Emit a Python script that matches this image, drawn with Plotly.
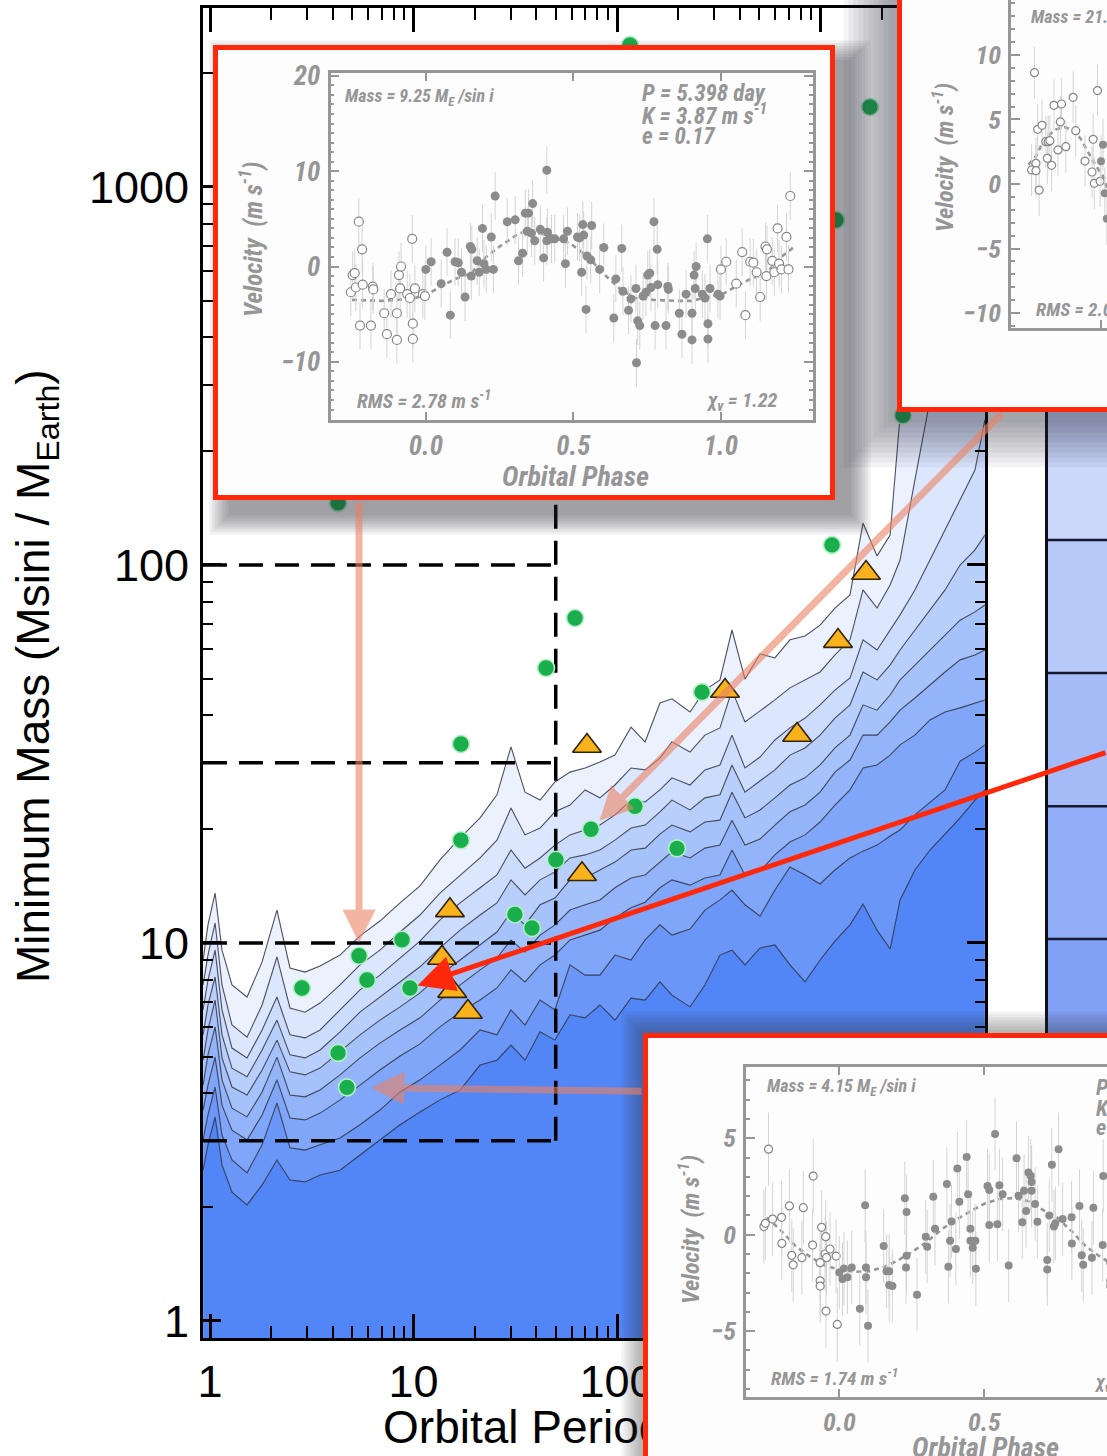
import math
import plotly.graph_objects as go

W, H = 1107, 1456


def fx(p):
    return p / W


def fy(p):
    return 1 - p / H


# ---------------- main panel data ----------------
# detection-limit contours (log10 of period [days], log10 of minimum mass [M_Earth])
contour_log10_period = [-0.034, -0.010, 0.025, 0.059, 0.108, 0.182, 0.256, 0.329, 0.393, 0.467,
                        0.541, 0.639, 0.737, 0.835, 0.934, 1.032, 1.130, 1.229, 1.327, 1.410,
                        1.479, 1.548, 1.622, 1.695, 1.769, 1.843, 1.916, 1.990, 2.069, 2.138,
                        2.211, 2.270, 2.359, 2.432, 2.506, 2.565, 2.629, 2.703, 2.776, 2.850,
                        2.924, 2.998, 3.071, 3.145, 3.209, 3.278, 3.342, 3.391, 3.464, 3.538,
                        3.612, 3.686, 3.759, 3.808]
contour_1 = [0.955, 1.048, 1.132, 0.981, 0.889, 0.857, 0.950, 1.087, 0.934, 0.923,
             0.939, 0.968, 1.019, 1.058, 1.106, 1.151, 1.220, 1.278, 1.331, 1.392,
             1.519, 1.399, 1.378, 1.426, 1.452, 1.463, 1.479, 1.497, 1.571, 1.532,
             1.635, 1.646, 1.611, 1.669, 1.696, 1.828, 1.698, 1.765, 1.754, 1.802,
             1.812, 1.841, 1.886, 1.921, 2.111, 2.024, 2.079, 2.394, 3.098, 3.495,
             3.627, 3.627, 3.627, 3.627]
contour_2 = [0.889, 0.968, 1.053, 0.889, 0.783, 0.751, 0.836, 0.963, 0.828, 0.817,
             0.841, 0.889, 0.942, 0.981, 1.029, 1.074, 1.132, 1.180, 1.225, 1.272,
             1.357, 1.286, 1.304, 1.347, 1.365, 1.405, 1.384, 1.418, 1.463, 1.458,
             1.489, 1.532, 1.505, 1.550, 1.569, 1.669, 1.585, 1.614, 1.643, 1.675,
             1.696, 1.717, 1.762, 1.802, 1.934, 1.886, 1.947, 2.013, 2.225, 2.437,
             2.833, 3.362, 3.627, 3.627]
contour_3 = [0.823, 0.902, 0.981, 0.823, 0.722, 0.696, 0.770, 0.857, 0.757, 0.749,
             0.770, 0.823, 0.876, 0.915, 0.960, 1.005, 1.061, 1.106, 1.146, 1.180,
             1.246, 1.198, 1.225, 1.259, 1.286, 1.299, 1.312, 1.339, 1.378, 1.373,
             1.405, 1.437, 1.418, 1.458, 1.471, 1.550, 1.463, 1.492, 1.537, 1.569,
             1.595, 1.630, 1.669, 1.701, 1.802, 1.775, 1.828, 1.868, 1.934, 2.013,
             2.093, 2.172, 2.251, 2.384]
contour_4 = [0.757, 0.836, 0.910, 0.757, 0.669, 0.646, 0.717, 0.796, 0.704, 0.696,
             0.717, 0.765, 0.817, 0.857, 0.897, 0.937, 0.987, 1.034, 1.074, 1.106,
             1.167, 1.127, 1.167, 1.188, 1.225, 1.233, 1.246, 1.272, 1.304, 1.312,
             1.347, 1.378, 1.352, 1.384, 1.392, 1.471, 1.399, 1.429, 1.458, 1.497,
             1.516, 1.550, 1.595, 1.630, 1.717, 1.696, 1.735, 1.775, 1.828, 1.881,
             1.934, 2.000, 2.040, 2.079]
contour_5 = [0.690, 0.770, 0.849, 0.696, 0.619, 0.598, 0.664, 0.743, 0.659, 0.651,
             0.669, 0.712, 0.757, 0.796, 0.831, 0.868, 0.915, 0.955, 0.995, 1.029,
             1.082, 1.048, 1.101, 1.119, 1.167, 1.172, 1.193, 1.214, 1.246, 1.251,
             1.288, 1.312, 1.294, 1.320, 1.325, 1.399, 1.331, 1.352, 1.384, 1.418,
             1.437, 1.471, 1.516, 1.550, 1.630, 1.616, 1.656, 1.696, 1.735, 1.775,
             1.815, 1.854, 1.876, 1.894]
contour_6 = [0.624, 0.704, 0.778, 0.638, 0.563, 0.540, 0.606, 0.698, 0.598, 0.593,
             0.611, 0.651, 0.696, 0.735, 0.770, 0.802, 0.849, 0.889, 0.929, 0.960,
             1.008, 0.976, 1.021, 1.048, 1.087, 1.101, 1.114, 1.146, 1.172, 1.180,
             1.214, 1.241, 1.225, 1.251, 1.259, 1.325, 1.259, 1.275, 1.312, 1.347,
             1.365, 1.399, 1.452, 1.484, 1.550, 1.550, 1.585, 1.616, 1.648, 1.683,
             1.717, 1.749, 1.762, 1.775]
contour_7 = [0.558, 0.624, 0.698, 0.571, 0.505, 0.479, 0.545, 0.638, 0.537, 0.532,
             0.550, 0.585, 0.624, 0.664, 0.701, 0.733, 0.778, 0.817, 0.849, 0.881,
             0.929, 0.897, 0.942, 0.968, 1.008, 1.021, 1.034, 1.066, 1.093, 1.108,
             1.146, 1.167, 1.153, 1.172, 1.180, 1.246, 1.180, 1.190, 1.233, 1.267,
             1.286, 1.320, 1.365, 1.405, 1.463, 1.471, 1.497, 1.524, 1.550, 1.590,
             1.611, 1.622, 1.635, 1.643]
contour_8 = [0.479, 0.545, 0.619, 0.492, 0.426, 0.392, 0.466, 0.577, 0.458, 0.452,
             0.466, 0.484, 0.519, 0.558, 0.606, 0.638, 0.677, 0.717, 0.770, 0.757,
             0.823, 0.783, 0.849, 0.823, 0.942, 0.915, 0.915, 0.968, 0.955, 1.008,
             1.048, 1.021, 1.037, 1.087, 1.114, 1.140, 1.101, 1.071, 1.140, 1.201,
             1.180, 1.156, 1.193, 1.225, 1.243, 1.259, 1.283, 1.299, 1.339, 1.373,
             1.405, 1.481, 1.505, 1.524]
contour_9 = [0.399, 0.466, 0.540, 0.413, 0.341, 0.307, 0.360, 0.426, 0.373, 0.368,
             0.386, 0.399, 0.439, 0.479, 0.519, 0.553, 0.585, 0.611, 0.677, 0.690,
             0.730, 0.690, 0.765, 0.743, 0.810, 0.802, 0.836, 0.796, 0.854, 0.849,
             0.897, 0.862, 0.831, 0.889, 0.968, 0.981, 0.942, 0.987, 0.995, 0.942,
             0.897, 0.955, 1.005, 1.048, 1.103, 1.034, 0.984, 1.114, 1.193, 1.246,
             1.288, 1.331, 1.378, 1.405]

# planets (green circles) and candidates (orange triangles)
green_period = [115.8, 1751, 4.26, 1139, 2543, 62.2, 44.8, 17.1, 261.6, 17.1, 122.5, 74.5,
                197.2, 50.1, 31.5, 38.2, 8.78, 5.398, 5.91, 2.83, 9.61, 4.26, 4.71, 1191]
green_mass = [2375, 1628, 146, 113, 249, 72.4, 53.4, 33.6, 46.1, 18.7, 23.0, 20.0,
              17.8, 16.6, 11.9, 10.96, 10.2, 9.25, 7.98, 7.60, 7.60, 5.12, 4.15, 818]
tri_period = [1674, 1219, 339.6, 767, 71.2, 67.3, 15.1, 13.8, 15.5, 18.5]
tri_mass = [95.2, 62.9, 46.4, 35.5, 33.2, 15.2, 12.2, 9.13, 7.46, 6.57]

box_mass_levels = [3, 10, 30, 100]
box_period_limit = 50
period_ticks = [1, 10, 100, 1000]
mass_ticks = [1, 10, 100, 1000]

# right-hand panel bin edges (M_Earth)
panel_mass_edges = [4.55, 10.25, 23.0, 51.8, 116.5, 262.0]
panel_colors = ['rgb(130,160,246)', 'rgb(146,173,247)', 'rgb(164,187,248)',
                'rgb(183,201,249)', 'rgb(203,215,251)']

# ---------------- inset RV data ----------------
# 9.25 M_E planet, P = 5.398 d
rv_a_phase = [0.000, 0.018, 0.052, 0.072, 0.083, 0.099, 0.110, 0.121, 0.133, 0.151, 0.154, 0.156,
              0.174, 0.181, 0.192, 0.197, 0.205, 0.222, 0.229, 0.235, 0.276, 0.303, 0.314, 0.328,
              0.337, 0.344, 0.348, 0.358, 0.362, 0.369, 0.388, 0.399, 0.410, 0.410, 0.412, 0.426,
              0.437, 0.467, 0.473, 0.480, 0.514, 0.521, 0.528, 0.532, 0.535, 0.543, 0.546, 0.559,
              0.562, 0.589, 0.603, 0.637, 0.644, 0.664, 0.668, 0.687, 0.695, 0.712, 0.714, 0.718,
              0.725, 0.736, 0.746, 0.752, 0.759, 0.763, 0.773, 0.777, 0.784, 0.786, 0.814, 0.820,
              0.822, 0.859, 0.868, 0.882, 0.902, 0.902, 0.909, 0.913, 0.916, 0.937, 0.946, 0.954,
              0.956, 0.956, 0.963, 0.990, 0.997]
rv_a_vel = [-0.3, 0.5, -1.8, 1.5, -5.1, 0.5, 0.4, -0.6, -3.2, 2.1, -1.0, 1.8,
            0.6, -0.6, 4.0, 0.3, -0.3, 3.1, -0.3, 7.4, 4.7, 4.9, 0.6, 1.4,
            5.6, 3.7, 5.6, 3.5, 6.6, 2.7, 3.9, 0.9, 10.1, 2.7, 3.6, 2.9,
            2.9, 2.9, 0.3, 3.7, 3.1, 3.0, -0.6, 4.4, 3.3, -4.5, 1.1, 0.7,
            4.3, -0.3, 2.0, -5.4, -1.3, 1.9, -2.6, -4.6, -3.4, -2.3, -10.1, -5.7,
            -6.2, -3.1, -2.7, -0.9, -0.7, -2.2, 4.7, -6.2, 1.8, -1.9, -6.2, -2.1,
            -2.4, -4.9, -7.1, -2.9, -4.9, -7.7, -0.9, -2.3, 0.0, -2.9, -3.3, 2.9,
            -6.0, -7.6, -2.3, -2.9, -3.1]
rv_a_err = 2.5
rv_a_model_phase = [-0.25, -0.15, -0.05, 0.0, 0.05, 0.10, 0.154, 0.20, 0.25, 0.317, 0.36, 0.43,
                    0.49, 0.55, 0.60, 0.66, 0.71, 0.77, 0.85, 0.90, 0.97, 1.0, 1.05, 1.10,
                    1.154, 1.20, 1.25]
rv_a_model_vel = [-3.5, -3.6, -3.4, -3.0, -2.1, -1.3, -0.7, 0.9, 2.1, 3.5, 3.7, 3.1,
                  2.4, 1.0, -0.7, -2.4, -3.3, -3.5, -3.6, -3.6, -3.1, -3.0, -2.1, -1.3,
                  -0.7, 0.9, 2.1]
rv_a_vel_ticks = [-10, 0, 10, 20]
phase_ticks = [0.0, 0.5, 1.0]

# 4.15 M_E planet
rv_b_phase = [0.000, 0.011, 0.016, 0.028, 0.043, 0.071, 0.089, 0.092, 0.092, 0.099, 0.153, 0.163,
              0.172, 0.172, 0.183, 0.226, 0.230, 0.232, 0.232, 0.268, 0.298, 0.303, 0.324, 0.330,
              0.371, 0.376, 0.382, 0.387, 0.402, 0.407, 0.414, 0.439, 0.444, 0.452, 0.452, 0.460,
              0.469, 0.471, 0.511, 0.517, 0.517, 0.537, 0.545, 0.552, 0.563, 0.584, 0.611, 0.618,
              0.631, 0.637, 0.644, 0.652, 0.660, 0.663, 0.663, 0.675, 0.683, 0.717, 0.717, 0.724,
              0.733, 0.740, 0.745, 0.756, 0.770, 0.801, 0.802, 0.828, 0.836, 0.841, 0.871, 0.876,
              0.908, 0.910, 0.934, 0.934, 0.934, 0.939, 0.951, 0.953, 0.954, 0.956, 0.968, 0.989,
              0.993]
rv_b_vel = [-1.96, -2.30, -1.75, -2.21, -1.70, -3.84, 1.52, -1.70, -2.21, -4.72, -0.59, -1.89,
            -1.89, -2.60, -2.66, 1.89, -1.70, 1.18, -1.09, -3.11, -0.10, -0.62, 1.97, 0.31,
            2.63, -1.66, -0.31, 0.69, -0.74, 3.43, 1.71, 4.03, 2.09, 0.31, -0.31, -0.67,
            -0.31, -1.76, 2.53, 2.32, 0.50, 5.22, 0.54, 2.56, 2.09, -1.59, 3.96, 2.02,
            0.64, 2.28, 1.23, 3.22, 3.06, 2.73, 2.28, 1.59, 0.67, -1.31, -1.80, 1.00,
            3.63, 0.42, 0.59, 4.43, 0.81, 0.90, -0.45, 1.49, -1.07, -1.56, -1.19, 1.40,
            -0.54, 3.04, -1.45, -2.39, -2.66, 0.38, -1.00, -0.10, -3.96, -1.19, -0.74, -1.11,
            -4.65]
rv_b_err = 1.9
rv_b_model_phase = [-0.25, -0.20, -0.15, -0.10, -0.05, 0.00, 0.05, 0.10, 0.15, 0.20, 0.25, 0.30,
                    0.35, 0.40, 0.45, 0.50, 0.55, 0.60, 0.65, 0.70, 0.75, 0.80, 0.85, 0.90, 0.95]
rv_b_model_vel = [0.9, 0.2, -0.6, -1.15, -1.6, -1.8, -1.92, -1.9, -1.7, -1.35, -0.9, -0.4,
                  0.25, 0.75, 1.2, 1.6, 1.85, 1.9, 1.75, 1.3, 0.9, 0.2, -0.6, -1.15, -1.6]
rv_b_vel_ticks = [-5, 0, 5]

# 21 M_E planet (top-right, mostly off the page)
rv_c_phase = [0.000, 0.007, 0.013, 0.020, 0.761, 0.771, 0.776, 0.776, 0.782, 0.787, 0.797, 0.810,
              0.815, 0.818, 0.824, 0.830, 0.838, 0.852, 0.860, 0.864, 0.879, 0.904, 0.913, 0.945,
              0.969, 0.973, 0.977, 0.988, 0.997]
rv_c_vel = [1.76, 3.05, -0.72, -2.69, 1.09, 8.63, 1.60, 1.03, 4.24, -0.47, 4.55, 3.28,
            1.99, 3.28, 3.36, 1.45, 6.10, 2.64, 4.81, 6.20, 2.89, 6.72, 4.13, 1.78,
            0.93, 3.46, 0.05, 7.24, 0.21]
rv_c_err = 2.0
rv_c_model_phase = [-0.25, -0.222, -0.20, -0.16, -0.125, -0.09, -0.07, -0.04, -0.02, 0.01, 0.02]
rv_c_model_vel = [1.5, 2.2, 3.3, 4.2, 4.4, 4.1, 3.5, 2.3, 1.5, 0.5, -0.3]
rv_c_vel_ticks = [-10, -5, 0, 5, 10]

# ---------------- styles ----------------
MAIN_FONT = "Liberation Sans, Arial, Helvetica, sans-serif"
INSET_FAMILY = "Liberation Sans Narrow, Arial Narrow, Roboto Condensed, Liberation Sans, Arial"
GRAY = 'rgb(150,150,150)'
RED = 'rgb(255,40,10)'
SALMON = 'rgba(236,130,100,0.6)'


def ifont(size):
    return dict(family=INSET_FAMILY, size=size, color=GRAY, weight='bold', style='italic')


MAIN_XR = [-0.0344, 3.8084]
MAIN_YR = [-0.045, 3.4735]

fig = go.Figure()
NOHOVER = dict(showlegend=False, hoverinfo='skip')

# ---- completeness contours with graded fills ----
periods = [10 ** v for v in contour_log10_period]
contours = [contour_9, contour_8, contour_7, contour_6, contour_5,
            contour_4, contour_3, contour_2, contour_1]
fills = ['rgb(82,133,246)', 'rgb(106,151,247)', 'rgb(127,166,248)', 'rgb(147,180,249)',
         'rgb(166,194,250)', 'rgb(185,207,251)', 'rgb(203,220,252)', 'rgb(220,231,253)',
         'rgb(236,241,254)']
fig.add_trace(go.Scatter(x=periods, y=[0.5] * len(periods), mode='lines',
                         line=dict(width=0, color='rgba(0,0,0,0)'), **NOHOVER))
for c, col in zip(contours, fills):
    fig.add_trace(go.Scatter(x=periods, y=[10 ** v for v in c], mode='lines', fill='tonexty',
                             fillcolor=col, line=dict(color='rgba(35,38,55,0.8)', width=1.1),
                             **NOHOVER))

# ---- dashed survey box ----
p_left = 10 ** MAIN_XR[0]
for m in box_mass_levels:
    fig.add_trace(go.Scatter(x=[p_left, box_period_limit], y=[m, m], mode='lines',
                             line=dict(color='black', width=3.5, dash='24px,12px'), **NOHOVER))
fig.add_trace(go.Scatter(x=[box_period_limit, box_period_limit], y=[box_mass_levels[0], 1000],
                         mode='lines', line=dict(color='black', width=3.5, dash='24px,12px'),
                         **NOHOVER))

# ---- planets ----
fig.add_trace(go.Scatter(x=green_period, y=green_mass, mode='markers',
                         marker=dict(size=17, color='rgb(26,174,76)',
                                     line=dict(color='rgb(175,240,195)', width=1.6)), **NOHOVER))
fig.add_trace(go.Scatter(x=tri_period, y=tri_mass, mode='markers',
                         marker=dict(symbol='triangle-up', size=25, color='rgb(247,178,28)',
                                     line=dict(color='rgb(50,35,10)', width=1.6)), **NOHOVER))

# empty trace that creates the overlay axis used for the x-axis title
fig.add_trace(go.Scatter(x=[None], y=[None], xaxis='x9', yaxis='y', mode='markers', **NOHOVER))

# ---- right-hand panel ----
for lo, hi, col in zip(panel_mass_edges[:-1], panel_mass_edges[1:], panel_colors):
    fig.add_trace(go.Scatter(x=[0, 1, 1, 0, 0], y=[lo, lo, hi, hi, lo], xaxis='x2', yaxis='y2',
                             mode='lines', fill='toself', fillcolor=col, line=dict(width=0),
                             **NOHOVER))
for e in panel_mass_edges:
    fig.add_trace(go.Scatter(x=[0, 1], y=[e, e], xaxis='x2', yaxis='y2', mode='lines',
                             line=dict(color='rgb(20,25,45)', width=2.5), **NOHOVER))

# ---- inset frames (empty subplots carrying shadow / white card / red border) ----
for xa, ya in (('x3', 'y3'), ('x5', 'y5'), ('x7', 'y7')):
    fig.add_trace(go.Scatter(x=[None], y=[None], xaxis=xa, yaxis=ya, mode='markers', **NOHOVER))


def add_rv(xa, ya, phase, vel, err, mph, mvel, lo, hi, msize):
    cp, cv = [], []
    for p, v in zip(phase, vel):
        if p - 1 >= lo:
            cp.append(p - 1)
            cv.append(v)
        if p + 1 <= hi:
            cp.append(p + 1)
            cv.append(v)
    es = dict(type='constant', value=err, color='rgb(212,212,212)', thickness=1, width=0)
    fig.add_trace(go.Scatter(x=mph, y=mvel, xaxis=xa, yaxis=ya, mode='lines',
                             line=dict(color=GRAY, width=2.6, dash='5px,4px'), **NOHOVER))
    fig.add_trace(go.Scatter(x=cp, y=cv, xaxis=xa, yaxis=ya, mode='markers', error_y=es,
                             marker=dict(size=msize, color='white',
                                         line=dict(color='rgb(135,135,135)', width=1.2)),
                             **NOHOVER))
    fig.add_trace(go.Scatter(x=phase, y=vel, xaxis=xa, yaxis=ya, mode='markers', error_y=es,
                             marker=dict(size=msize, color='rgb(140,140,140)'), **NOHOVER))


add_rv('x4', 'y4', rv_c_phase, rv_c_vel, rv_c_err, rv_c_model_phase, rv_c_model_vel, -0.26, 1.26, 8)
add_rv('x6', 'y6', rv_a_phase, rv_a_vel, rv_a_err, rv_a_model_phase, rv_a_model_vel, -0.26, 1.26, 9)
add_rv('x8', 'y8', rv_b_phase, rv_b_vel, rv_b_err, rv_b_model_phase, rv_b_model_vel, -0.26, 1.26, 8)


# ---------------- layout ----------------
def frame_shapes(xr, yr, x0, y0, x1, y1, spread=26, steps=8, dx=0, dy=0, alpha=0.06):
    sh = []
    for k in range(steps, 0, -1):
        e = spread * k / steps
        sh.append(dict(type='rect', xref=xr, yref=yr, layer='below',
                       x0=x0 - e + dx, x1=x1 + e + dx, y0=y0 - e + dy, y1=y1 + e + dy,
                       line=dict(width=0), fillcolor='rgba(45,45,55,%.3f)' % alpha))
    sh.append(dict(type='rect', xref=xr, yref=yr, layer='below', x0=x0, x1=x1, y0=y0, y1=y1,
                   line=dict(color=RED, width=5), fillcolor='rgb(253,253,253)'))
    return sh


shapes = []
shapes += frame_shapes('x3', 'y3', 899.5, -30, 1140, 409.5, spread=50, steps=10, dx=-6, dy=8,
                       alpha=0.05)
shapes += frame_shapes('x5', 'y5', 215.5, 47.5, 832.5, 497.5, spread=22, steps=8, dx=16, dy=15,
                       alpha=0.07)
shapes += frame_shapes('x7', 'y7', 645.5, 1035.5, 1140, 1490, spread=24, steps=8, alpha=0.06)

minor_vals = [d * 10 ** k for k in range(0, 4) for d in range(2, 10)]
main_ax = dict(showline=True, linecolor='black', linewidth=3, mirror='ticks', ticks='inside',
               tickwidth=2.5, tickcolor='black', tickmode='array', showgrid=False, zeroline=False,
               tickfont=dict(family=MAIN_FONT, size=45, color='black'), type='log')


def rv_axes(xdom, ydom, xr, yr, yticks, xmirror, ymirror, ticksize):
    common = dict(showline=True, linecolor=GRAY, linewidth=2.5, ticks='inside', tickcolor=GRAY,
                  tickwidth=2, showgrid=False, zeroline=False, tickfont=ifont(ticksize))
    xa = dict(domain=xdom, range=xr, tickmode='array', tickvals=phase_ticks,
              ticktext=['%.1f' % t for t in phase_ticks], ticklen=8,
              mirror='ticks' if xmirror else False, ticklabelstandoff=0, **common)
    ya = dict(domain=ydom, range=yr, tickmode='array', tickvals=yticks,
              ticktext=[str(t).replace('-', '\u2212') for t in yticks], ticklen=9,
              mirror='ticks' if ymirror else False, ticklabelstandoff=2,
              minor=dict(ticks='inside', ticklen=4, dtick=1, tickcolor=GRAY, tickwidth=1.5),
              **common)
    return xa, ya


xa4, ya4 = rv_axes([fx(1011), 1.0], [fy(328), 1.0], [-0.31, 0.0207], [-11.16, 14.26],
                   rv_c_vel_ticks, False, False, 26)
xa6, ya6 = rv_axes([fx(330.5), fx(812.7)], [fy(420), fy(73)], [-0.323, 1.311], [-16.1, 20.3],
                   rv_a_vel_ticks, True, True, 27)
xa8, ya8 = rv_axes([fx(746), 1.0], [fy(1397), fy(1067)], [-0.3217, 0.923], [-8.41, 8.69],
                   rv_b_vel_ticks, True, False, 26)
xa4['anchor'], ya4['anchor'] = 'y4', 'x4'
xa6['anchor'], ya6['anchor'] = 'y6', 'x6'
xa8['anchor'], ya8['anchor'] = 'y8', 'x8'

hidden = dict(visible=False, showgrid=False, zeroline=False, fixedrange=True)
x_title_pos = 10 ** ((MAIN_XR[0] + MAIN_XR[1]) / 2)

layout = dict(
    width=W, height=H, margin=dict(l=0, r=0, t=0, b=0, autoexpand=False), showlegend=False,
    paper_bgcolor='white', plot_bgcolor='rgba(0,0,0,0)',
    xaxis=dict(domain=[fx(203), fx(985)], range=MAIN_XR, anchor='y', ticklen=24,
               tickvals=period_ticks, ticktext=[str(t) for t in period_ticks],
               ticklabelstandoff=2,
               minor=dict(ticks='inside', ticklen=12, tickwidth=2, tickcolor='black',
                          tickvals=minor_vals), **main_ax),
    yaxis=dict(domain=[fy(1338), fy(8)], range=MAIN_YR, anchor='x', ticklen=18,
               tickvals=mass_ticks, ticktext=[str(t) for t in mass_ticks],
               ticklabelstandoff=2,
               minor=dict(ticks='inside', ticklen=10, tickwidth=2, tickcolor='black',
                          tickvals=minor_vals), **main_ax),
    # overlay axis carrying the x-axis title as a tick label (stays beneath the insets)
    xaxis9=dict(overlaying='x', anchor='y', side='bottom', type='log', range=MAIN_XR,
                tickmode='array', tickvals=[x_title_pos], ticktext=['Orbital Period (days)'],
                ticks='', showline=False, showgrid=False, zeroline=False,
                ticklabelstandoff=58, tickfont=dict(family=MAIN_FONT, size=46, color='black')),
    xaxis2=dict(domain=[fx(1048), 1.0], range=[0, 1], anchor='y2', **hidden),
    yaxis2=dict(domain=[fy(1338), fy(8)], range=MAIN_YR, type='log', anchor='x2',
                showline=True, linecolor='rgb(15,15,30)', linewidth=3, ticks='',
                showticklabels=False, showgrid=False, zeroline=False),
    xaxis3=dict(domain=[fx(838), 1.0], range=[838, 1107], anchor='y3', **hidden),
    yaxis3=dict(domain=[fy(472), 1.0], range=[472, 0], anchor='x3', **hidden),
    xaxis5=dict(domain=[fx(205), fx(874)], range=[205, 874], anchor='y5', **hidden),
    yaxis5=dict(domain=[fy(540), fy(38)], range=[540, 38], anchor='x5', **hidden),
    xaxis7=dict(domain=[fx(615), 1.0], range=[615, 1107], anchor='y7', **hidden),
    yaxis7=dict(domain=[0.0, fy(1005)], range=[1456, 1005], anchor='x7', **hidden),
    xaxis4=xa4, yaxis4=ya4, xaxis6=xa6, yaxis6=ya6, xaxis8=xa8, yaxis8=ya8,
    shapes=shapes,
)
# keep every axis exactly where its domain puts it (no margin pushing)
for key in list(layout):
    if key.startswith('xaxis') or key.startswith('yaxis'):
        layout[key]['automargin'] = False

ann = []


def txt(x, y, s, font, xanchor='left', yanchor='middle', angle=0):
    ann.append(dict(x=fx(x), y=fy(y), xref='paper', yref='paper', text=s, showarrow=False,
                    xanchor=xanchor, yanchor=yanchor, textangle=angle, font=font))


# main y title
txt(36, 676, 'Minimum Mass (Msini / M<sub>Earth</sub>)', dict(family=MAIN_FONT, size=46, color='black'),
    xanchor='center', angle=-90)

# left inset texts
txt(343, 97, 'Mass = 9.25 M<sub>E</sub> /sin <i>i</i>', ifont(18))
txt(640, 94, 'P = 5.398 day', ifont(23))
txt(640, 115, 'K = 3.87 m s<sup>-1</sup>', ifont(23))
txt(640, 136, 'e = 0.17', ifont(23))
txt(355, 400, 'RMS = 2.78 m s<sup>-1</sup>', ifont(20))
txt(779, 401, '\u03c7<sub>\u03bd</sub> = 1.22', ifont(20), xanchor='right')
txt(252, 240, 'Velocity  (m s<sup>-1</sup>)', ifont(25), xanchor='center', angle=-90)
txt(575, 477, 'Orbital Phase', ifont(28), xanchor='center')

# top-right inset texts
txt(1029, 18, 'Mass = 21.0 M<sub>E</sub> /sin <i>i</i>', ifont(18))
txt(1034, 308, 'RMS = 2.07 m s<sup>-1</sup>', ifont(19))
txt(943, 158, 'Velocity  (m s<sup>-1</sup>)', ifont(24), xanchor='center', angle=-90)

# bottom inset texts
txt(765, 1087, 'Mass = 4.15 M<sub>E</sub> /sin <i>i</i>', ifont(18))
txt(1094, 1087, 'P = 4.7 day', ifont(22))
txt(1094, 1107, 'K = 1.9 m s<sup>-1</sup>', ifont(22))
txt(1094, 1127, 'e = 0.0', ifont(22))
txt(769, 1377, 'RMS = 1.74 m s<sup>-1</sup>', ifont(19))
txt(1092, 1382, '\u03c7<sub>\u03bd</sub> = 1.1', ifont(19))
txt(689, 1230, 'Velocity  (m s<sup>-1</sup>)', ifont(24), xanchor='center', angle=-90)
txt(985, 1447, 'Orbital Phase', ifont(28), xanchor='center')

# arrows from the insets to the planets they show
arrow_specs = [
    (17, 0, -455, 13, SALMON, 7, 2, 0.95),
    (11, 412, -417, 12, SALMON, 7, 2, 0.95),
    (20, 700, -236, 8, RED, 5, 2, 1.45),
    (22, 296, 4, 24, SALMON, 7, 2, 0.95),
]
for idx, axp, ayp, so, col, wdt, head, size in arrow_specs:
    ann.append(dict(x=math.log10(green_period[idx]), y=math.log10(green_mass[idx]), xref='x', yref='y',
                    ax=axp, ay=ayp, text='', showarrow=True, arrowcolor=col, arrowwidth=wdt,
                    arrowhead=head, arrowsize=size, standoff=so))

layout['annotations'] = ann
fig.update_layout(**layout)
fig.write_html("out.html", post_script="document.body.style.margin='0px';")
